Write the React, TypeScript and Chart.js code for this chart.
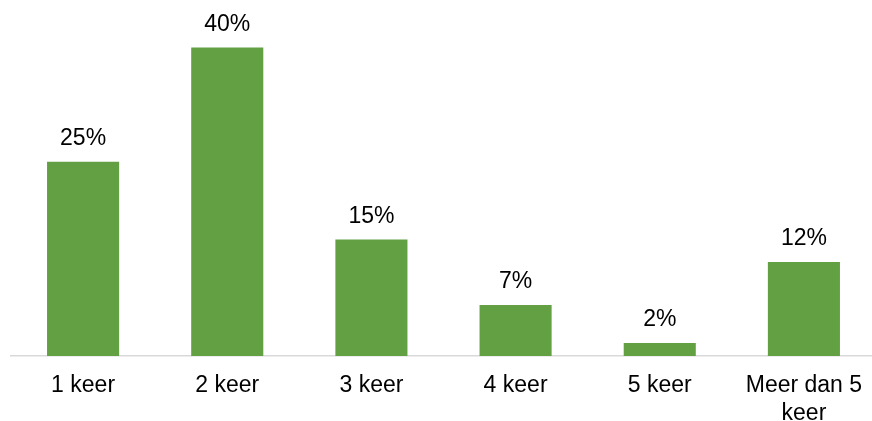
import React, { useEffect, useRef } from "react";
import { Chart, registerables } from "chart.js";

Chart.register(...registerables);

const categories: (string | string[])[] = ["1 keer", "2 keer", "3 keer", "4 keer", "5 keer", ["Meer dan 5", "keer"]];
const values: number[] = [25.2, 40, 15.1, 6.6, 1.7, 12.2];
const valueLabels: string[] = ["25%", "40%", "15%", "7%", "2%", "12%"];

const FONT = "'Liberation Sans', Arial, Helvetica, sans-serif";

const dataLabelPlugin = {
  id: "dataLabels",
  afterDatasetsDraw(chart: any) {
    const ctx = chart.ctx;
    const meta = chart.getDatasetMeta(0);
    ctx.save();
    ctx.font = `23px ${FONT}`;
    ctx.fillStyle = "#000000";
    ctx.textAlign = "center";
    ctx.textBaseline = "alphabetic";
    meta.data.forEach((bar: any, i: number) => {
      ctx.fillText(valueLabels[i], bar.x, bar.y - 17);
    });
    ctx.restore();
  },
};

export default function App() {
  const ref = useRef<HTMLCanvasElement | null>(null);
  useEffect(() => {
    if (!ref.current) return;
    const chart = new Chart(ref.current, {
      type: "bar",
      data: {
        labels: categories,
        datasets: [
          {
            data: values,
            backgroundColor: "#63A044",
            borderWidth: 0,
            categoryPercentage: 1,
            barPercentage: 0.5,
          },
        ],
      },
      options: {
        animation: false,
        responsive: false,
        maintainAspectRatio: false,
        layout: { padding: { left: 11, right: 4, top: 9, bottom: 0 } },
        plugins: { legend: { display: false }, tooltip: { enabled: false } },
        scales: {
          y: { display: false, min: 0, max: 45 },
          x: {
            grid: { display: false, drawTicks: false },
            border: { display: true, color: "#D9D9D9", width: 1.5 },
            ticks: {
              color: "#000000",
              font: { family: FONT, size: 23, lineHeight: 1.25 },
              padding: 15,
              maxRotation: 0,
              autoSkip: false,
            },
            afterFit(scale: any) {
              scale.height = 65;
            },
          },
        },
      },
      plugins: [dataLabelPlugin],
    });
    return () => chart.destroy();
  }, []);
  return (
    <div style={{ position: "fixed", left: 0, top: 0, width: 872, height: 421, overflow: "hidden", background: "#fff" }}>
      <canvas ref={ref} width={880} height={421} style={{ display: "block", width: 880, height: 421 }} />
    </div>
  );
}
